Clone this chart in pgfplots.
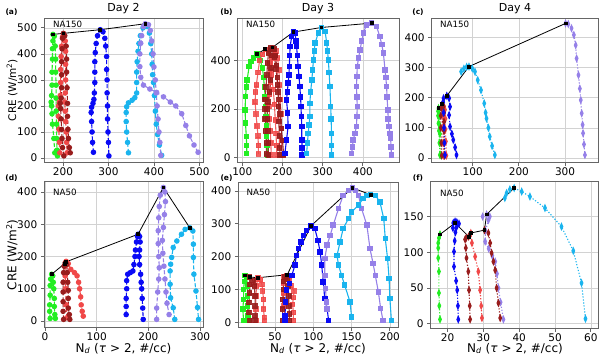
\documentclass[border=0pt]{standalone}
\usepackage{fontspec}
\setmainfont{DejaVu Sans}
\usepackage{pgfplots}
\pgfplotsset{compat=1.18}
\definecolor{cgreen}{HTML}{22EE22}
\definecolor{cred}{HTML}{F04848}
\definecolor{cbrown}{HTML}{981C1C}
\definecolor{cblue}{HTML}{0A0AF5}
\definecolor{ccyan}{HTML}{1AB4EE}
\definecolor{cpurple}{HTML}{9580E8}
\pgfplotsset{
  base/.style={scale only axis, anchor=south west,
    grid=major, grid style={draw=gray!35, line width=0.6pt},
    axis line style={draw=black!60, line width=0.8pt},
    tick align=outside, tick pos=left, major tick length=3.5pt,
    tick style={draw=black!60, line width=0.8pt},
    ticklabel style={font=\fontsize{10.5}{12}\selectfont},
    xticklabel style={yshift=1.5pt},
    /pgf/number format/assume math mode=true, scaled ticks=false,
    every axis plot/.append style={line width=1.1pt}},
  d2/.style={mark=*, mark size=2.2pt, dash pattern=on 4pt off 2pt, mark options={solid}},
  d3/.style={mark=square*, mark size=2.2pt, solid},
  d4/.style={mark=diamond*, mark size=3pt, dash pattern=on 1.2pt off 1.8pt, mark options={solid, xscale=0.6}},
  blk/.style={black, solid, line width=0.8pt, mark=square*, mark size=1.4pt, mark options={solid}},
}
\begin{document}
\begin{tikzpicture}
\path[use as bounding box] (0pt,0pt) rectangle (600pt,360pt);
% ---------------- (a) Day 2 NA150
\begin{axis}[base, at={(44.3pt,198pt)}, width=158.7pt, height=144pt,
  xmin=159, xmax=507.8, ymin=-15.4, ymax=538, xtick={200,300,400,500}, ytick={0,100,200,300,400,500}]
\addplot[d2, cgreen] coordinates {(182,20)(180,75)(177,130)(176,170)(175,200)(174,215)(175,240)(176,280)(176,330)(177,380)(177,420)(178,450)(178,475)(181,468)(183,430)(184,380)(184,330)(185,280)(185,230)(185,180)(186,130)(186,75)(187,30)(188,8)};
\addplot[d2, cred] coordinates {(193,20)(192,60)(191,110)(190,160)(190,200)(192,215)(194,240)(195,290)(195,340)(196,390)(197,430)(199,465)(202,470)(205,450)(206,410)(206,360)(206,300)(205,250)(204,215)(205,180)(206,140)(207,100)(208,60)(209,20)};
\addplot[d2, cbrown] coordinates {(202,8)(199,40)(198,75)(197,110)(196,150)(195,190)(194,210)(196,230)(197,270)(197,320)(197,370)(198,420)(199,460)(201,479)(204,470)(207,430)(208,380)(208,330)(209,270)(210,210)(210,160)(211,110)(212,75)(214,40)(216,20)};
\addplot[d2, cblue] coordinates {(267,22)(265,60)(264,100)(263,140)(262,175)(263,195)(266,210)(268,225)(269,250)(270,290)(270,330)(270,370)(271,405)(273,440)(276,470)(282,493)(288,485)(292,460)(294,430)(296,390)(296,340)(297,300)(297,250)(298,200)(298,150)(299,100)(300,60)(301,8)};
\addplot[d2, ccyan] coordinates {(344,20)(342,60)(340,100)(339,140)(339,175)(340,197)(344,212)(352,222)(358,232)(362,250)(362,290)(362,330)(363,370)(365,410)(367,440)(370,470)(376,500)(385,505)(390,480)(393,440)(395,400)(396,360)(397,320)(399,290)(401,240)(403,180)(405,130)(408,90)(412,50)(417,10)};
\addplot[d2, cpurple] coordinates {(497,22)(488,50)(478,85)(470,125)(461,170)(448,200)(436,215)(421,235)(406,252)(391,265)(377,280)(371,310)(369,351)(369,400)(371,441)(373,470)(377,505)(381,516)(388,512)(392,490)(395,450)(398,400)(400,350)(403,300)(405,250)(407,200)(409,150)(411,100)(413,60)(415,10)};
\addplot[blk] coordinates {(178,475)(201,479)(282,493)(381,516)};
\end{axis}
% ---------------- (b) Day 3 NA150
\begin{axis}[base, at={(237.7pt,198pt)}, width=161.3pt, height=144pt,
  xmin=88.6, xmax=489.8, ymin=-17.7, ymax=575, xtick={100,200,300,400}, ytick={0,200,400}]
\addplot[d3, cgreen] coordinates {(111,18)(111,50)(110,87)(108,142)(107,197)(108,252)(110,290)(112,320)(117,375)(122,395)(128,410)(136,426)(140,420)(145,400)(150,370)(153,330)(155,290)(157,250)(158,210)(159,170)(160,130)(160,90)(162,50)(164,10)};
\addplot[d3, cred, opacity=0.85] coordinates {(140,15)(140,50)(139,90)(137,130)(134,180)(132,230)(133,270)(135,300)(139,350)(143,400)(150,425)(158,445)(165,432)(170,390)(173,340)(177,280)(180,220)(182,155)(184,100)(185,50)(186,12)};
\addplot[d3, cred, opacity=0.85] coordinates {(172,12)(171,60)(170,110)(168,160)(167,210)(168,260)(170,310)(172,360)(174,410)(178,445)(184,440)(188,410)(191,360)(193,300)(195,240)(196,180)(197,120)(198,70)(199,12)};
\addplot[d3, cbrown, opacity=0.9] coordinates {(160,15)(160,60)(158,110)(157,160)(156,200)(157,240)(159,290)(161,340)(163,390)(165,430)(170,452)(176,446)(180,415)(184,365)(188,300)(191,240)(194,180)(197,120)(200,70)(203,12)};
\addplot[d3, cbrown, opacity=0.9] coordinates {(165,12)(165,60)(164,110)(163,160)(162,200)(164,230)(168,270)(170,320)(172,370)(173,420)(175,452)(180,448)(183,420)(185,380)(187,330)(189,270)(190,210)(191,150)(192,90)(193,40)(194,12)};
\addplot[d3, cblue] coordinates {(206,18)(210,73)(214,128)(213,183)(210,238)(212,270)(214,307)(216,340)(217,375)(218,420)(219,458)(223,499)(227,517)(231,513)(234,480)(235,458)(237,420)(239,375)(241,335)(243,293)(245,250)(246,210)(247,170)(248,128)(248,73)(249,40)(249,11)};
\addplot[d3, ccyan] coordinates {(260,18)(262,60)(264,100)(266,135)(268,169)(268,224)(270,270)(273,320)(275,360)(277,403)(279,440)(281,472)(289,513)(297,536)(306,520)(310,472)(312,440)(314,403)(316,350)(318,293)(320,210)(321,160)(322,100)(322,50)(322,11)};
\addplot[d3, cpurple] coordinates {(372,18)(374,45)(376,73)(380,100)(384,128)(385,170)(386,210)(385,250)(384,293)(385,335)(386,375)(389,410)(393,444)(397,480)(401,513)(409,547)(422,554)(434,540)(442,499)(447,465)(451,430)(455,362)(457,330)(459,293)(460,250)(462,197)(463,160)(465,128)(467,100)(469,80)(470,45)(471,11)};
\addplot[blk] coordinates {(136,426)(157,447)(175,454)(227,517)(297,536)(422,554)};
\end{axis}
% ---------------- (c) Day 4 NA150
\begin{axis}[base, at={(431.7pt,198pt)}, width=166.3pt, height=144pt,
  xmin=11.3, xmax=371.3, ymin=-13.3, ymax=464, xtick={100,200,300}, ytick={0,100,200,300,400}]
\addplot[d4, cgreen] coordinates {(29,10)(28,50)(27,90)(26,115)(25,140)(25,155)(26,165)(27,160)(28,140)(28,110)(29,80)(29,50)(30,10)};
\addplot[d4, cred] coordinates {(37,8)(36,50)(35,100)(35,140)(36,160)(38,170)(40,160)(41,130)(41,95)(42,55)(43,8)};
\addplot[d4, cbrown] coordinates {(33,8)(32,50)(31,100)(31,140)(32,165)(34,178)(37,172)(38,150)(38,120)(38,90)(38,50)(39,8)};
\addplot[d4, cblue] coordinates {(40,10)(39,50)(38,100)(37,150)(36,185)(37,198)(44,206)(49,198)(51,170)(49,142)(51,104)(55,80)(58,60)(62,35)(65,10)};
\addplot[d4, ccyan] coordinates {(75,286)(81,296)(87,302)(92,303)(99,297)(105,286)(111,258)(118,225)(125,181)(128,150)(130,131)(134,100)(137,71)(142,40)(148,10)};
\addplot[d4, cpurple] coordinates {(301,446)(307,444)(314,430)(319,408)(323,374)(325,330)(329,275)(332,230)(334,192)(336,148)(338,110)(339,82)(341,45)(343,10)};
\addplot[blk] coordinates {(26,165)(33,178)(44,206)(92,303)(301,446)};
\end{axis}
% ---------------- (d) Day 2 NA50
\begin{axis}[base, at={(44.3pt,33pt)}, width=158.7pt, height=146pt,
  xmin=-1.35, xmax=305.6, ymin=-18.6, ymax=434, xtick={0,100,200,300}, ytick={0,100,200,300,400}]
\addplot[d2, cgreen] coordinates {(10,8)(9,30)(9,50)(10,80)(10,110)(11,130)(13,145)(15,140)(16,120)(17,100)(18,70)(18,45)(19,20)(20,8)};
\addplot[d2, cred] coordinates {(42,10)(41,50)(40,100)(39,140)(39,170)(41,185)(45,178)(50,160)(57,150)(62,140)(65,120)(67,100)(69,75)(70,50)(72,30)(74,15)};
\addplot[d2, cbrown] coordinates {(36,5)(35,30)(35,60)(35,90)(35,120)(36,150)(37,170)(39,180)(42,175)(43,150)(44,120)(45,95)(45,70)(45,40)(47,20)(48,5)};
\addplot[d2, cblue] coordinates {(157,20)(157,45)(157,70)(158,100)(158,125)(160,145)(165,150)(170,155)(172,175)(174,200)(175,220)(177,245)(179,262)(180,269)(183,262)(184,245)(183,220)(182,200)(183,175)(185,145)(186,120)(187,100)(188,70)(189,40)(190,5)};
\addplot[d2, cpurple] coordinates {(216,5)(216,40)(218,90)(220,130)(221,165)(220,200)(219,240)(219,280)(220,320)(221,355)(223,390)(229,414)(232,400)(233,370)(231,330)(229,290)(227,250)(228,210)(230,170)(232,130)(234,90)(236,55)(240,20)};
\addplot[d2, ccyan] coordinates {(251,5)(248,41)(243,72)(242,114)(242,155)(243,176)(245,197)(248,228)(255,248)(264,269)(271,284)(280,289)(286,279)(287,238)(287,197)(288,145)(292,93)(295,42)(297,5)};
\addplot[blk] coordinates {(13,145)(38,178)(40,183)(180,269)(229,414)(280,289)};
\end{axis}
% ---------------- (e) Day 3 NA50
\begin{axis}[base, at={(238.3pt,33pt)}, width=160pt, height=145pt,
  xmin=2.1, xmax=211, ymin=-14.3, ymax=427.7, xtick={50,100,150,200}, ytick={0,100,200,300,400}]
\addplot[d3, cgreen] coordinates {(9,5)(8,40)(9,70)(9,100)(10,125)(11,143)(13,138)(14,110)(14,80)(14,50)(15,20)(15,5)};
\addplot[d3, cred, opacity=0.85] coordinates {(26,5)(25,40)(25,80)(26,110)(27,130)(28,136)(31,130)(33,115)(34,95)(35,70)(35,40)(36,15)(36,5)};
\addplot[d3, cbrown, opacity=0.9] coordinates {(17,5)(16,30)(16,60)(17,90)(17,115)(17,138)(21,128)(23,110)(24,80)(24,50)(24,20)(24,5)};
\addplot[d3, cred, opacity=0.85] coordinates {(63,8)(62,50)(61,90)(61,120)(62,140)(65,143)(68,132)(71,112)(75,95)(74,75)(73,55)(74,30)(74,6)};
\addplot[d3, cbrown, opacity=0.9] coordinates {(60,5)(60,40)(60,70)(61,100)(61,125)(63,138)(66,130)(67,110)(68,80)(68,50)(69,25)(69,5)};
\addplot[d3, cblue] coordinates {(63,6)(63,21)(64,62)(65,98)(69,118)(72,143)(76,174)(78,204)(81,225)(84,245)(87,265)(91,280)(97,294)(102,286)(106,250)(109,214)(111,174)(113,123)(115,72)(118,42)(120,6)};
\addplot[d3, cpurple] coordinates {(118,40)(117,62)(116,103)(115,143)(115,194)(118,235)(122,265)(126,296)(133,347)(139,387)(146,402)(151,410)(155,402)(159,387)(163,347)(170,296)(174,225)(178,180)(181,143)(185,92)(188,42)(191,6)};
\addplot[d3, ccyan] coordinates {(150,16)(148,62)(141,113)(137,143)(133,174)(131,204)(135,245)(139,286)(146,316)(150,336)(159,357)(165,377)(170,387)(175,389)(181,387)(187,367)(192,316)(194,255)(197,194)(199,133)(200,72)(202,6)};
\addplot[blk] coordinates {(11,143)(17,138)(28,136)(66,145)(97,294)(151,410)(175,389)};
\end{axis}
% ---------------- (f) Day 4 NA50
\begin{axis}[base, at={(430.7pt,32pt)}, width=167.3pt, height=147pt,
  xmin=15.3, xmax=62, ymin=-6, ymax=199.8, xtick={20,30,40,50,60}, ytick={0,50,100,150}]
\addplot[d4, cgreen] coordinates {(17.9,6)(17.7,25)(17.6,43)(17.6,73)(17.4,92)(17.4,106)(17.4,113)(17.6,120)(17.9,125)};
\addplot[d4, cblue] coordinates {(21.5,134)(21.6,141)(22.1,143)(22.6,142)(23.2,140)(22.5,135)(22.2,128)(22.0,116)(21.8,101)(21.8,80)(22.4,60)(22.7,47)(22.9,25)(23.0,6)};
\addplot[d4, cred] coordinates {(26.5,127)(26.8,113)(27.7,94)(28.6,73)(29.1,47)(29.4,25)(29.6,8)};
\addplot[d4, cbrown] coordinates {(25.9,122)(25.2,120)(24.9,118)(25.1,106)(25.3,92)(25.8,73)(26.0,47)(26.2,25)(26.3,6)};
\addplot[d4, cpurple] coordinates {(29.8,150)(30.9,153)(31.8,150)(31.4,145)(30.6,130)(30.5,115)(31.5,105)(32.5,95)(33.3,87)(33.8,70)(34.2,50)(34.8,30)(35.6,6)};
\addplot[d4, cbrown] coordinates {(30.3,131)(31.4,127)(31.9,113)(32.3,99)(32.8,87)(33.3,75)(33.7,50)(34.2,29)(34.7,8)};
\addplot[d4, ccyan] coordinates {(36,176)(36.5,183)(37.4,188)(38.6,190)(40.7,185)(43,178)(47.2,162)(51.8,136)(55.1,102)(57.4,57)(58.5,7)};
\addplot[blk] coordinates {(17.9,125)(22.1,141)(25.9,122)(26.5,127)(30.3,131)(30.9,153)(38.6,190)};
\end{axis}
% ---------------- texts
\tikzset{pl/.style={font=\bfseries\fontsize{7.5}{9}\selectfont, inner sep=0pt},
  na/.style={font=\fontsize{8.7}{10}\selectfont, anchor=north west, inner sep=0pt},
  tt/.style={font=\fontsize{11}{13}\selectfont, inner sep=0pt},
  lb/.style={font=\fontsize{10.5}{12}\selectfont, inner sep=0pt},
  xl/.style={font=\fontsize{12}{14}\selectfont, inner sep=0pt}}
\node[pl] at (11.5pt,347.5pt) {(a)};
\node[pl] at (226.5pt,347.5pt) {(b)};
\node[pl] at (418pt,347.5pt) {(c)};
\node[pl] at (11.5pt,182pt) {(d)};
\node[pl] at (226.5pt,182pt) {(e)};
\node[pl] at (418pt,182pt) {(f)};
\node[tt] at (123.5pt,351pt) {Day 2};
\node[tt] at (318pt,351pt) {Day 3};
\node[tt] at (515pt,351pt) {Day 4};
\node[na] at (53pt,339.5pt) {NA150};
\node[na] at (246pt,339.5pt) {NA150};
\node[na] at (440pt,339.5pt) {NA150};
\node[na] at (53pt,171pt) {NA50};
\node[na] at (246.5pt,171pt) {NA50};
\node[na] at (440pt,170.5pt) {NA50};
\node[lb, rotate=90] at (12pt,270pt) {CRE (W/m\textsuperscript{2})};
\node[xl, rotate=90] at (12pt,105pt) {CRE (W/m\textsuperscript{2})};
\node[xl] at (123.5pt,11.5pt) {N\textsubscript{\textit{d}} (\textit{τ}\,\,>\,\,2, \#/cc)};
\node[xl] at (318pt,11.5pt) {N\textsubscript{\textit{d}} (\textit{τ}\,\,>\,\,2, \#/cc)};
\node[xl] at (515pt,11.5pt) {N\textsubscript{\textit{d}} (\textit{τ}\,\,>\,\,2, \#/cc)};
\end{tikzpicture}
\end{document}
